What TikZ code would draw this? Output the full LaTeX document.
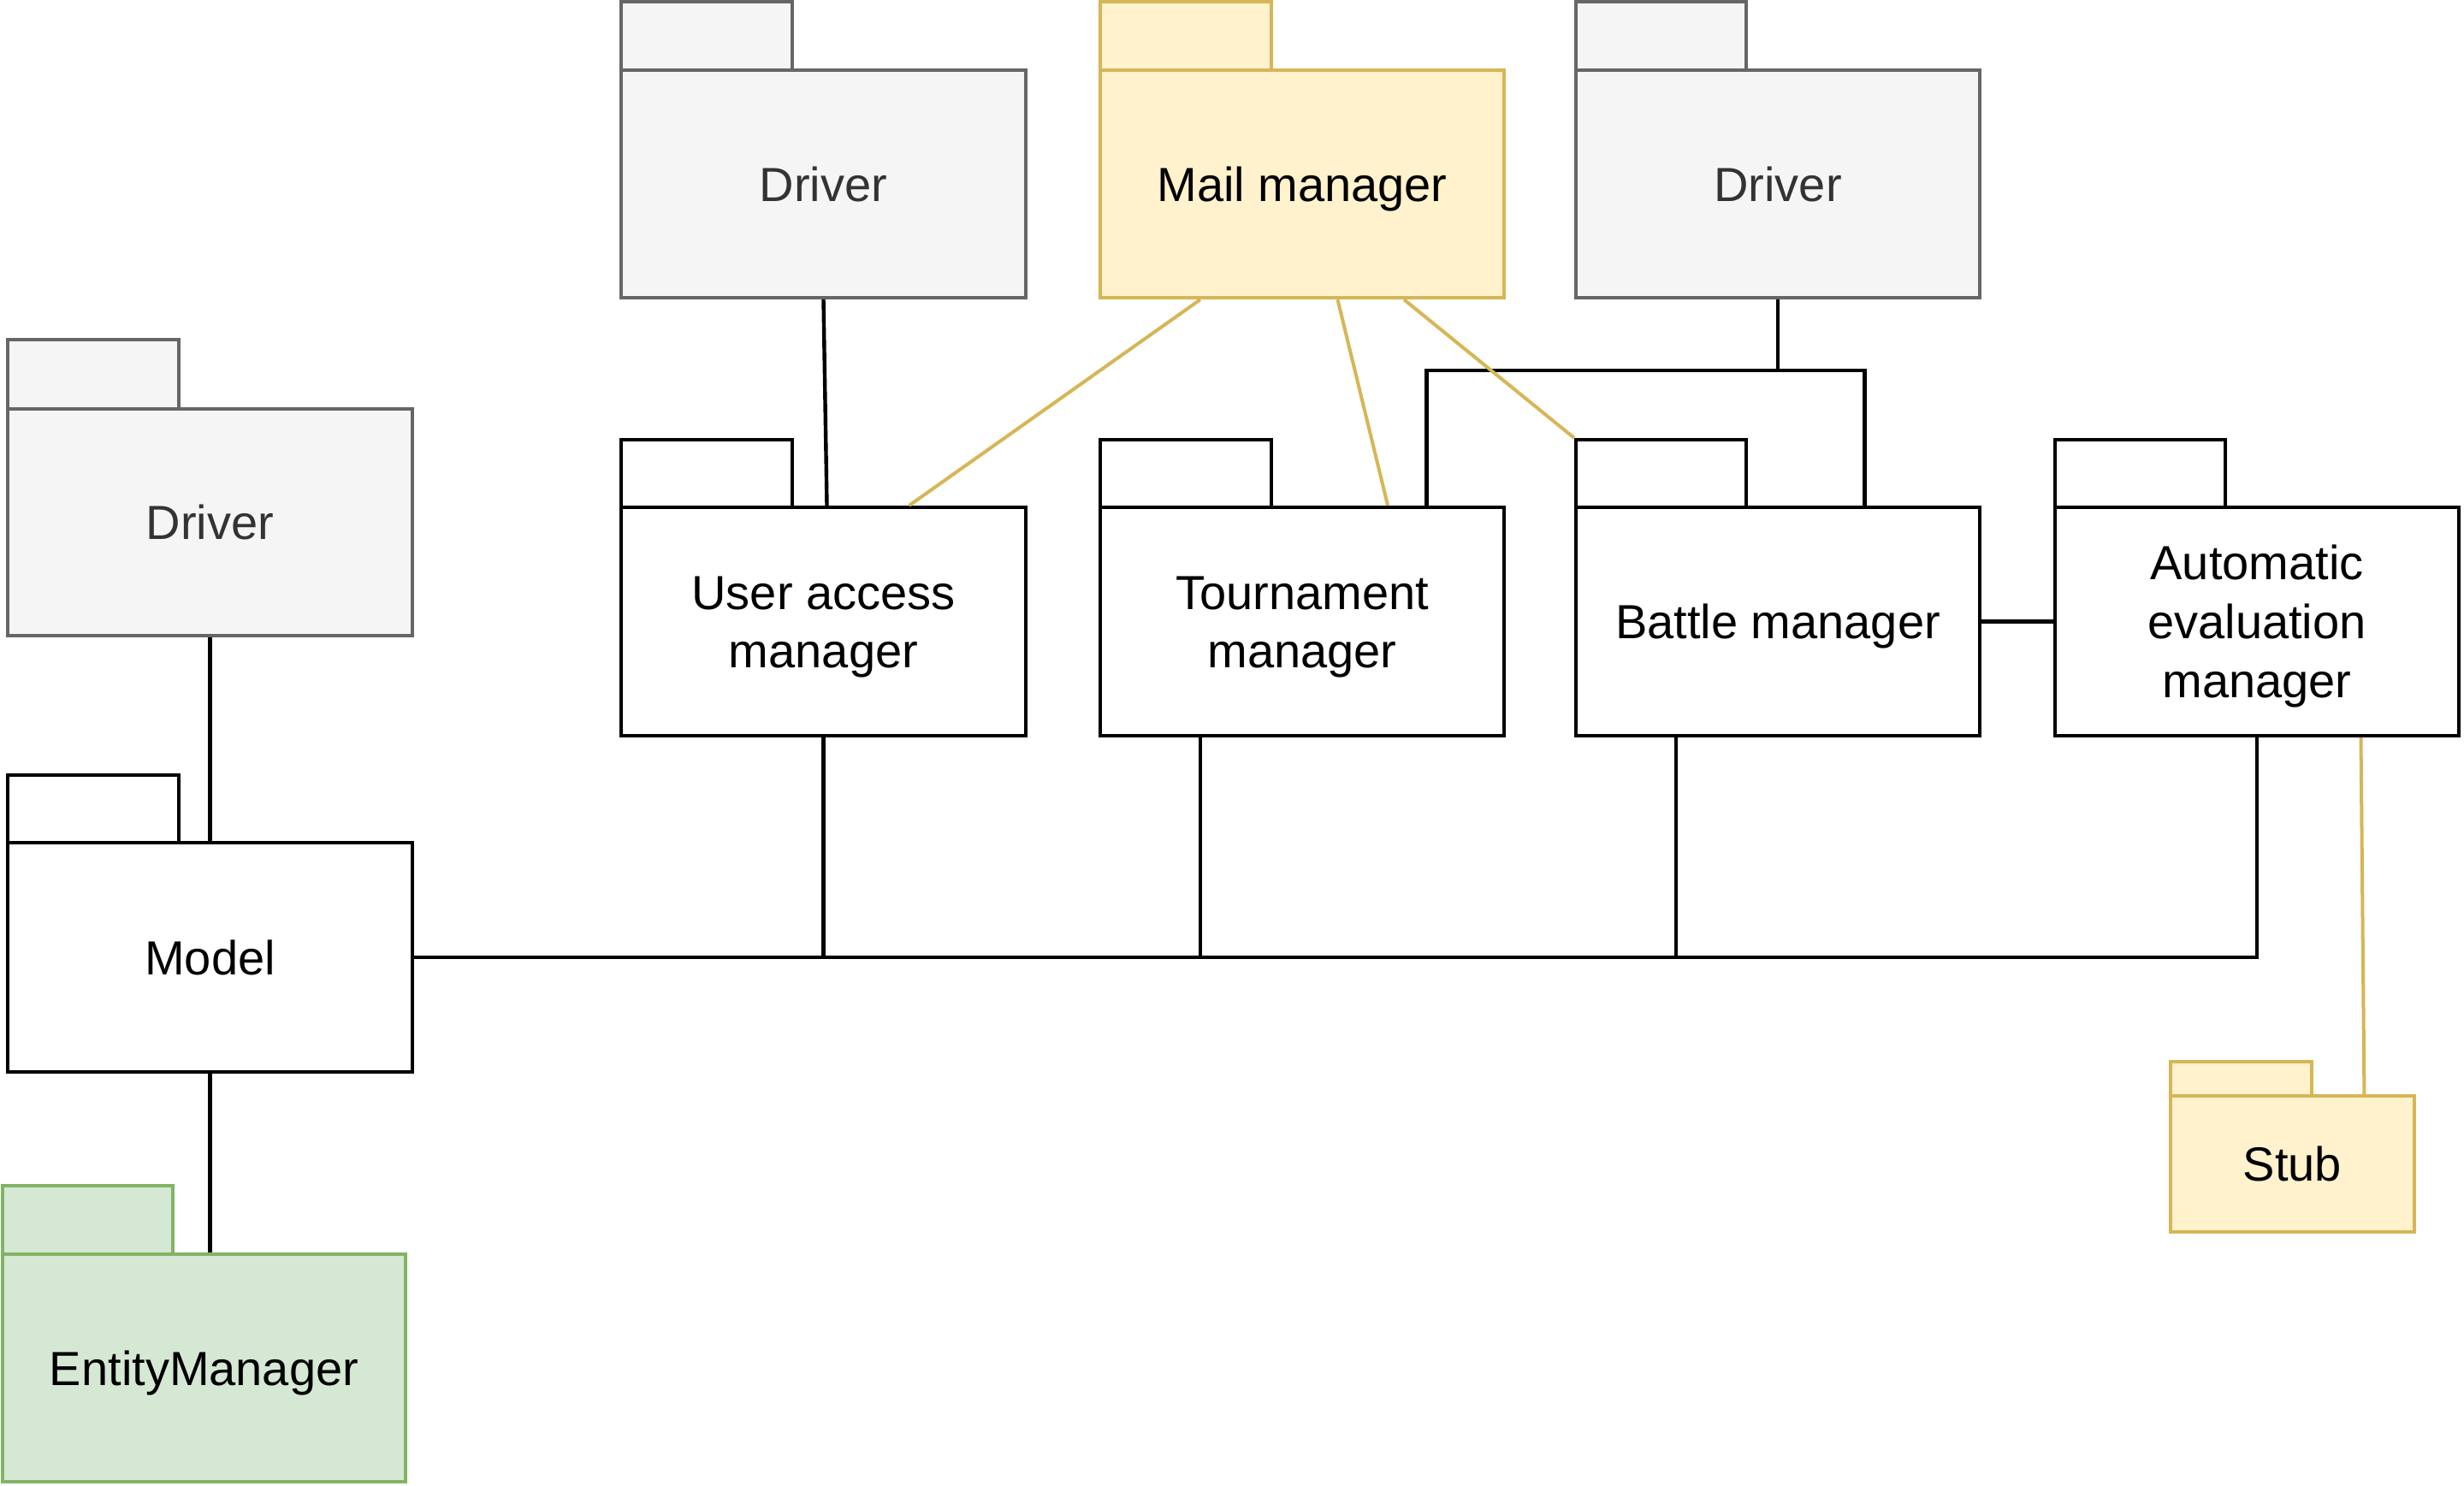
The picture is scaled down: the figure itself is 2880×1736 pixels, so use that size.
\documentclass[tikz,border=0pt]{standalone}
\usepackage{fontspec}
\setmainfont{Liberation Sans}
\usetikzlibrary{fit,calc}
\definecolor{gstroke}{HTML}{666666}
\definecolor{gfill}{HTML}{F5F5F5}
\definecolor{gtext}{HTML}{333333}
\definecolor{ystroke}{HTML}{D6B656}
\definecolor{yfill}{HTML}{FFF2CC}
\definecolor{grstroke}{HTML}{82B366}
\definecolor{grfill}{HTML}{D5E8D4}
\tikzset{
  pkgblack/.style={draw=black,fill=white,line width=1.1pt},
  pkggray/.style={draw=gstroke,fill=gfill,text=gtext,line width=1.1pt},
  pkgyellow/.style={draw=ystroke,fill=yfill,line width=1.1pt},
  pkggreen/.style={draw=grstroke,fill=grfill,line width=1.1pt},
  pkglabel/.style={align=center,inner sep=0pt,text height=10pt,text depth=0pt,
        font=\fontsize{14}{17.2}\selectfont},
  twolines/.style={text height=27.2pt},
  threelines/.style={text height=44.4pt},
  conn/.style={draw=black,line width=1.1pt},
  yconn/.style={draw=ystroke,line width=1pt},
}
% name, left, tab top, tab right, body top, right, bottom, style, text
\newcommand\pkgbox[9]{%
  \node[#8,fit={(#2,#3)(#4,#5)},inner sep=0pt,text height=0pt] (#1-tab) {};
  \node[#8,fit={(#2,#5)(#6,#7)},inner sep=0pt,text height=0pt] (#1) {};
  \node[pkglabel,#8,draw=none,fill=none] (#1-label) at (#1.center) {#9};
}
\begin{document}
\begin{tikzpicture}[x=0.25pt,y=-0.25pt,line join=miter]
\useasboundingbox[fill=white] (0,0) rectangle (2880,1736);
% packages
\pkgbox{drvL}{9}{397}{209}{478}{482}{743}{pkggray}{Driver}
\pkgbox{model}{9}{906}{209}{985}{482}{1253}{pkgblack}{Model}
\pkgbox{em}{3}{1386}{202}{1466}{474}{1732}{pkggreen}{EntityManager}
\pkgbox{drv1}{726}{2}{926}{82}{1199}{348}{pkggray}{Driver}
\pkgbox{mail}{1286}{2}{1486}{82}{1758}{348}{pkgyellow}{Mail manager}
\pkgbox{drv3}{1842}{2}{2041}{82}{2314}{348}{pkggray}{Driver}
\pkgbox{uam}{726}{514}{926}{593}{1199}{860}{pkgblack,twolines}{User access\\manager}
\pkgbox{tour}{1286}{514}{1486}{593}{1758}{860}{pkgblack,twolines}{Tournament\\manager}
\pkgbox{battle}{1842}{514}{2041}{593}{2314}{860}{pkgblack}{Battle manager}
\pkgbox{aem}{2402}{514}{2601}{593}{2874}{860}{pkgblack,threelines}{Automatic\\evaluation\\manager}
\pkgbox{stub}{2537}{1241}{2702}{1281}{2822}{1440}{pkgyellow}{Stub}
% black connectors
\draw[conn] (drvL.south) -- (drvL.south |- model.north);
\draw[conn] (model.south) -- (model.south |- em.north);
\draw[conn] (drv1.south) -- ([xshift=1pt]uam.north);
\path (drv3.south) ++(0,83) coordinate (j3);
\draw[conn] (drv3.south) -- (j3);
\draw[conn] ($(tour.north west)!0.805!(tour.north east)$) |- (j3)
            -| ($(battle.north west)!0.713!(battle.north east)$);
\draw[conn] (battle.east) -- (aem.west);
\draw[conn] (model.east) -| (aem.south);
\draw[conn] (uam.south) -- (uam.south |- model.east);
\coordinate (ts) at ($(tour.south west)!0.25!(tour.south east)$);
\draw[conn] (ts) -- (ts |- model.east);
\coordinate (bs) at ($(battle.south west)!0.25!(battle.south east)$);
\draw[conn] (bs) -- (bs |- model.east);
% yellow connectors
\draw[yconn] ($(mail.south west)!0.25!(mail.south east)$) -- ($(uam.north west)!0.71!(uam.north east)$);
\draw[yconn] ($(mail.south west)!0.587!(mail.south east)$) -- ($(tour.north west)!0.71!(tour.north east)$);
\draw[yconn] ($(mail.south west)!0.75!(mail.south east)$) -- (battle-tab.north west);
\draw[yconn] ($(aem.south west)!0.755!(aem.south east)$) -- ($(stub.north west)!0.79!(stub.north east)$);
\end{tikzpicture}
\end{document}
